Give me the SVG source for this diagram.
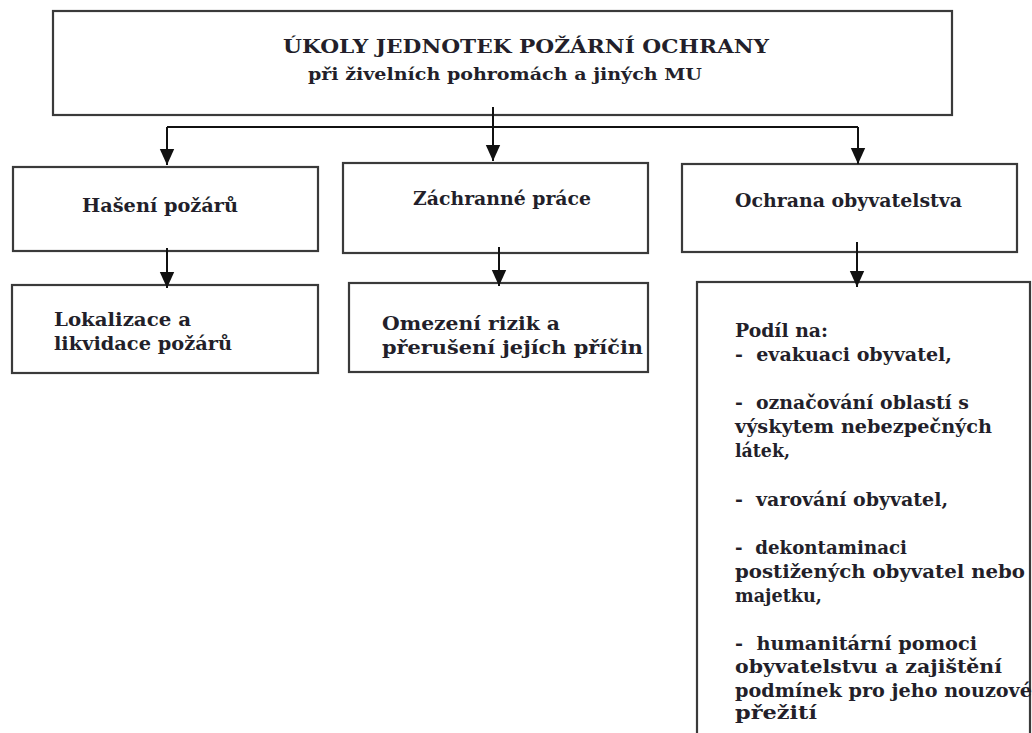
<svg xmlns="http://www.w3.org/2000/svg" width="1032" height="733" viewBox="0 0 1032 733">
<style>
.box{fill:#fff;stroke:#3a3a3a;stroke-width:2.2}
.t{font-family:"DejaVu Serif","Liberation Serif",serif;font-weight:bold;fill:#231f2a;white-space:pre;font-size:18px}
.con{fill:none;stroke:#111;stroke-width:2}
</style>
<defs>
<marker id="ah" viewBox="0 0 10 10" refX="10" refY="5" markerUnits="userSpaceOnUse" markerWidth="16" markerHeight="16" orient="auto">
<path d="M0,0.5 L10,5 L0,9.5 z" fill="#111"/>
</marker>
</defs>
<rect width="1032" height="733" fill="#fff"/>
<g id="n-top">
<rect class="box" x="53" y="11" width="899" height="104"/>
<text class="t" x="283" y="53" style="font-size:18.5px" textLength="486" lengthAdjust="spacingAndGlyphs">ÚKOLY JEDNOTEK POŽÁRNÍ OCHRANY</text>
<text class="t" x="308" y="80" style="font-size:16px" textLength="394" lengthAdjust="spacingAndGlyphs">při živelních pohromách a jiných MU</text>
</g>
<g id="n-haseni">
<rect class="box" x="13" y="167" width="305" height="84"/>
<text class="t" x="82" y="212" textLength="156" lengthAdjust="spacingAndGlyphs">Hašení požárů</text>
</g>
<g id="n-zachranne">
<rect class="box" x="343" y="163" width="305" height="90"/>
<text class="t" x="413" y="205" textLength="178" lengthAdjust="spacingAndGlyphs">Záchranné práce</text>
</g>
<g id="n-ochrana">
<rect class="box" x="682" y="164" width="335" height="88"/>
<text class="t" x="735" y="207" textLength="227" lengthAdjust="spacingAndGlyphs">Ochrana obyvatelstva</text>
</g>
<g id="n-lokalizace">
<rect class="box" x="12" y="285" width="306" height="88"/>
<text class="t" x="54" y="326" textLength="137" lengthAdjust="spacingAndGlyphs">Lokalizace a</text>
<text class="t" x="54" y="350" textLength="178" lengthAdjust="spacingAndGlyphs">likvidace požárů</text>
</g>
<g id="n-omezeni">
<rect class="box" x="349" y="283" width="299" height="89"/>
<text class="t" x="382" y="330" textLength="178" lengthAdjust="spacingAndGlyphs">Omezení rizik a</text>
<text class="t" x="382" y="354" textLength="261" lengthAdjust="spacingAndGlyphs">přerušení jejích příčin</text>
</g>
<g id="n-podil">
<rect class="box" x="697" y="282" width="333" height="470"/>
<text class="t" x="735" y="337" textLength="93" lengthAdjust="spacingAndGlyphs">Podíl na:</text>
<text class="t" x="735" y="361" textLength="217" lengthAdjust="spacingAndGlyphs">-  evakuaci obyvatel,</text>
<text class="t" x="735" y="409" textLength="234" lengthAdjust="spacingAndGlyphs">-  označování oblastí s</text>
<text class="t" x="735" y="433" textLength="257" lengthAdjust="spacingAndGlyphs">výskytem nebezpečných</text>
<text class="t" x="735" y="457" textLength="55" lengthAdjust="spacingAndGlyphs">látek,</text>
<text class="t" x="735" y="506" textLength="213" lengthAdjust="spacingAndGlyphs">-  varování obyvatel,</text>
<text class="t" x="735" y="554" textLength="172" lengthAdjust="spacingAndGlyphs">-  dekontaminaci</text>
<text class="t" x="735" y="578" textLength="290" lengthAdjust="spacingAndGlyphs">postižených obyvatel nebo</text>
<text class="t" x="735" y="602" textLength="87" lengthAdjust="spacingAndGlyphs">majetku,</text>
<text class="t" x="735" y="650" textLength="242" lengthAdjust="spacingAndGlyphs">-  humanitární pomoci</text>
<text class="t" x="735" y="673" textLength="267" lengthAdjust="spacingAndGlyphs">obyvatelstvu a zajištění</text>
<text class="t" x="735" y="697" textLength="297" lengthAdjust="spacingAndGlyphs">podmínek pro jeho nouzové</text>
<text class="t" x="735" y="719" textLength="82" lengthAdjust="spacingAndGlyphs">přežití</text>
</g>
<g id="connectors">
<path class="con" d="M493,107 V161" marker-end="url(#ah)"/>
<path class="con" d="M167,127 H858"/>
<path class="con" d="M167,127 V165" marker-end="url(#ah)"/>
<path class="con" d="M858,127 V164" marker-end="url(#ah)"/>
<path class="con" d="M167,248 V288" marker-end="url(#ah)"/>
<path class="con" d="M499,247 V286" marker-end="url(#ah)"/>
<path class="con" d="M857,242 V287" marker-end="url(#ah)"/>
</g>
</svg>
